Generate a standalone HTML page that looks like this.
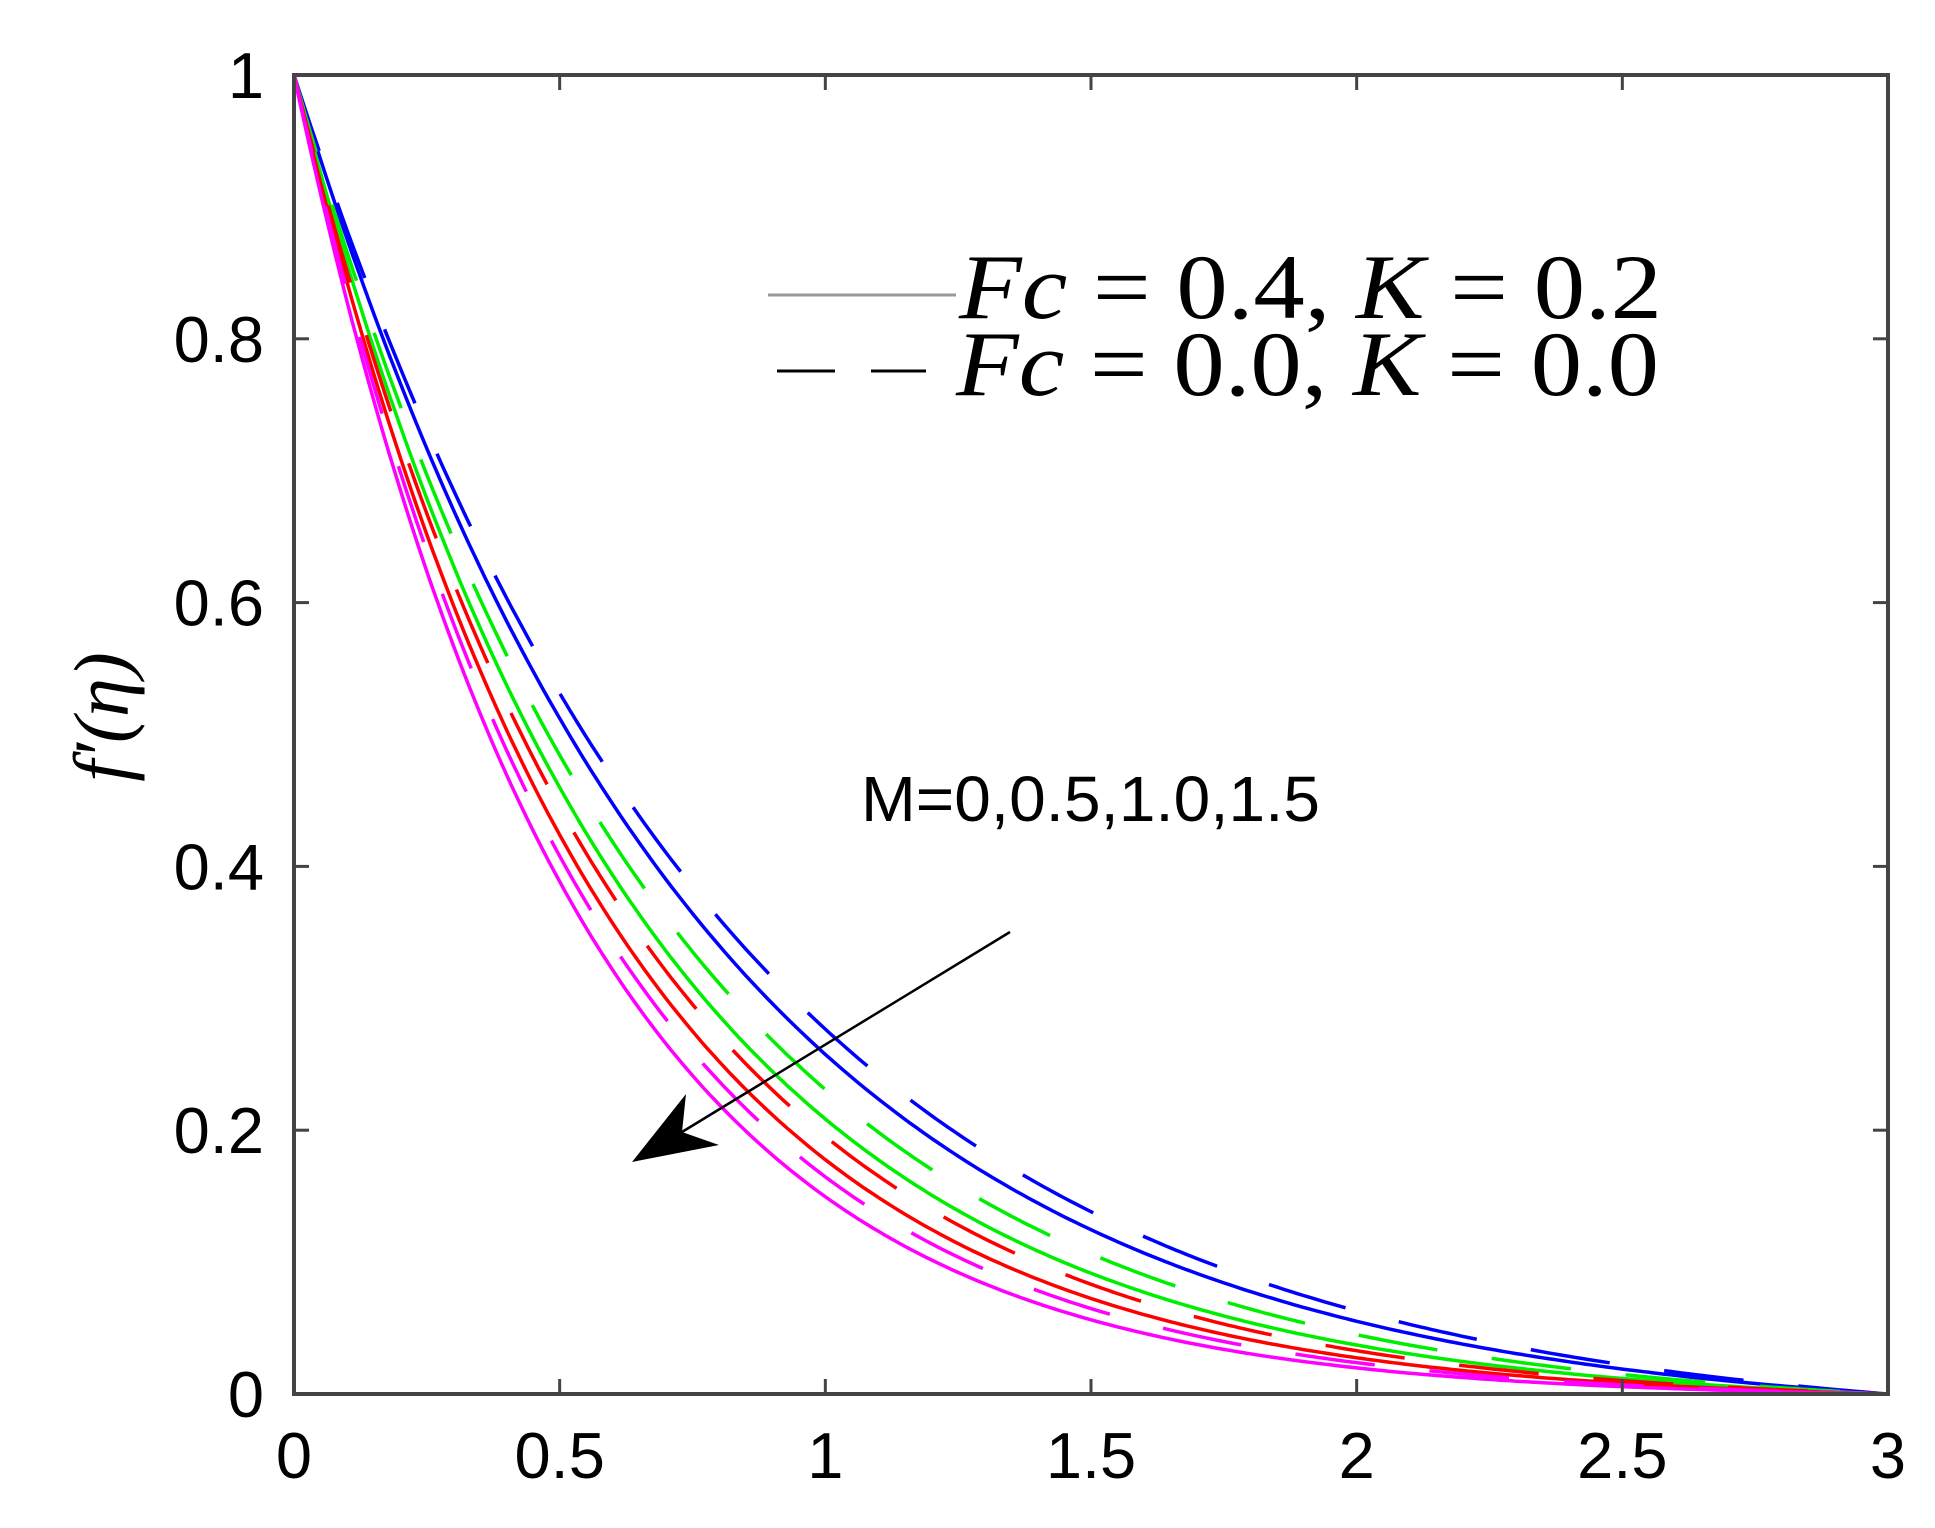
<!DOCTYPE html>
<html><head><meta charset="utf-8"><style>html,body{margin:0;padding:0;background:#fff}svg{display:block}</style></head>
<body>
<svg id="s" width="1935" height="1528" xmlns="http://www.w3.org/2000/svg">
<g id="curves" fill="none" stroke-width="3.5"></g>
<rect x="294" y="75" width="1594" height="1319" fill="none" stroke="#444" stroke-width="4"/>
<g id="ticks" stroke="#444" stroke-width="3"></g>
<g font-family="Liberation Sans, Arial, sans-serif" font-size="65" fill="#000" id="labels"></g>
<text transform="translate(128,717) rotate(-90)" text-anchor="middle" font-family="Liberation Serif, serif" font-style="italic" font-size="78">f′(η)</text>
<line x1="768" y1="295" x2="956" y2="295" stroke="#999" stroke-width="3"/>
<line x1="777" y1="371" x2="835" y2="371" stroke="#000" stroke-width="3"/>
<line x1="871" y1="371" x2="926" y2="371" stroke="#000" stroke-width="3"/>
<text x="959" y="318" font-family="Liberation Serif, serif" font-size="92" textLength="703" lengthAdjust="spacingAndGlyphs"><tspan font-style="italic">Fc</tspan> = 0.4, <tspan font-style="italic">K</tspan> = 0.2</text>
<text x="956" y="395" font-family="Liberation Serif, serif" font-size="92" textLength="703" lengthAdjust="spacingAndGlyphs"><tspan font-style="italic">Fc</tspan> = 0.0, <tspan font-style="italic">K</tspan> = 0.0</text>
<text x="861" y="821" font-family="Liberation Sans, Arial, sans-serif" font-size="64" textLength="459" lengthAdjust="spacingAndGlyphs">M=0,0.5,1.0,1.5</text>
<line x1="1010" y1="932" x2="682" y2="1132" stroke="#000" stroke-width="2.5"/>
<polygon points="632,1162 686,1094 682,1132 719,1145" fill="#000"/>
</svg>
<script>
(function(){
var ns="http://www.w3.org/2000/svg";
var X0=294,X1=1888,Y0=1394,H=1319;
function px(x){return X0+(X1-X0)*x/3}
function py(v){return Y0-H*v}
var series=[["#0000ff",1.3,0],["#0000ff",1.22,1],["#00ee00",1.53,0],["#00ee00",1.42,1],["#ff0000",1.7,0],["#ff0000",1.6,1],["#ff00ff",1.88,0],["#ff00ff",1.78,1]];
var g=document.getElementById("curves");
series.forEach(function(s){
 var a=s[1],d="",e3=Math.exp(-3*a);
 for(var i=0;i<=300;i++){var x=i/100;var v=(Math.exp(-a*x)-e3)/(1-e3);d+=(i?"L":"M")+px(x).toFixed(1)+","+py(v).toFixed(1);}
 var p=document.createElementNS(ns,"path");p.setAttribute("d",d);p.setAttribute("stroke",s[0]);
 if(s[2])p.setAttribute("stroke-dasharray","80 55");
 g.appendChild(p);
});
var t=document.getElementById("ticks"),L=document.getElementById("labels");
function ln(a,b,c,d){var l=document.createElementNS(ns,"line");l.setAttribute("x1",a);l.setAttribute("y1",b);l.setAttribute("x2",c);l.setAttribute("y2",d);t.appendChild(l);}
function tx(x,y,s,anc){var e=document.createElementNS(ns,"text");e.setAttribute("x",x);e.setAttribute("y",y);e.setAttribute("text-anchor",anc);e.textContent=s;L.appendChild(e);}
var xl=["0","0.5","1","1.5","2","2.5","3"];
for(var i=0;i<7;i++){var x=px(i*0.5);ln(x,Y0,x,Y0-15);ln(x,75,x,90);tx(x,1478,xl[i],"middle");}
var yl=["0","0.2","0.4","0.6","0.8","1"];
for(var j=0;j<6;j++){var y=py(j*0.2);ln(X0,y,X0+15,y);ln(X1,y,X1-15,y);tx(264,y+23,yl[j],"end");}
})();
</script>
</body></html>
